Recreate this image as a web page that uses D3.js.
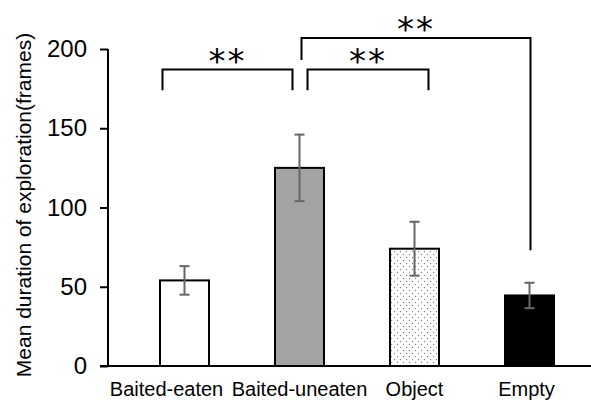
<!DOCTYPE html>
<html>
<head>
<meta charset="utf-8">
<script src="https://cdn.jsdelivr.net/npm/d3@7"></script>
<style>
  body { margin: 0; background: #fff; }
  svg { font-family: 'Liberation Sans', Arial, sans-serif; }
</style>
</head>
<body>
<div class="dataGraph"></div>
<script>
'use strict';

var categories = ['Baited-eaten', 'Baited-uneaten', 'Object', 'Empty'];
var means = [54, 125, 74, 44.5];
var errors = [9, 21, 17, 8];
var yTicks = [0, 50, 100, 150, 200];
var sigLabels = ['**', '**', '**'];

var fills = ['#ffffff', '#a3a3a3', 'url(#dots)', '#000000'];

var margin = {top: 49, right: 1, bottom: 37, left: 108},
  width = 591 - margin.left - margin.right,
  height = 403 - margin.top - margin.bottom;

var svg = d3.select('.dataGraph').append('svg')
  .attr('width', 591)
  .attr('height', 403);

var defs = svg.append('defs');
var pat = defs.append('pattern')
  .attr('id', 'dots')
  .attr('patternUnits', 'userSpaceOnUse')
  .attr('width', 6)
  .attr('height', 6);
pat.append('rect').attr('width', 6).attr('height', 6).attr('fill', '#fff');
pat.append('circle').attr('cx', 1.5).attr('cy', 1.5).attr('r', 0.7).attr('fill', '#888');
pat.append('circle').attr('cx', 4.5).attr('cy', 4.5).attr('r', 0.7).attr('fill', '#888');

var g = svg.append('g')
  .attr('transform', 'translate(' + margin.left + ',' + margin.top + ')');

var x = d3.scaleBand()
  .domain(categories)
  .range([52, 446])
  .paddingInner(0.574)
  .paddingOuter(0);

var y = d3.scaleLinear()
  .domain([0, 200])
  .range([height, 0]);

// y axis
var yAxis = g.append('g')
  .call(d3.axisLeft(y).tickValues(yTicks).tickSize(8).tickPadding(13));
yAxis.select('.domain').attr('stroke-width', 2).attr('d', 'M0,' + (height + 1) + 'V0');
yAxis.selectAll('.tick line').attr('stroke-width', 2);
yAxis.selectAll('.tick text')
  .attr('font-size', 24)
  .attr('font-family', "'Liberation Sans', Arial, sans-serif")
  .attr('fill', '#000');

// x axis
var xAxis = g.append('g')
  .attr('transform', 'translate(0,' + height + ')')
  .call(d3.axisBottom(x).tickSize(0).tickPadding(16));
xAxis.select('.domain').attr('stroke-width', 2).attr('d', 'M-8,0H' + (width + 2));
xAxis.selectAll('.tick text')
  .attr('font-size', 20)
  .attr('font-family', "'Liberation Sans', Arial, sans-serif")
  .attr('fill', '#000')
  .attr('dx', function(d, i) { return i === 0 ? -18 : (i === 3 ? -3 : 0); });

// y title
svg.append('text')
  .attr('transform', 'translate(31,' + 205 + ') rotate(-90)')
  .attr('text-anchor', 'middle')
  .attr('font-size', 21)
  .text('Mean duration of exploration(frames)');

// bars
g.selectAll('.bar')
  .data(categories)
  .enter().append('rect')
  .attr('class', 'bar')
  .attr('x', function(d) { return x(d); })
  .attr('width', x.bandwidth())
  .attr('y', function(d, i) { return y(means[i]); })
  .attr('height', function(d, i) { return height - y(means[i]); })
  .attr('fill', function(d, i) { return fills[i]; })
  .attr('stroke', '#000')
  .attr('stroke-width', 2);

// error bars
var eb = g.selectAll('.err')
  .data(categories)
  .enter().append('g')
  .attr('class', 'err')
  .attr('stroke', '#666')
  .attr('stroke-width', 2);
eb.append('line')
  .attr('x1', function(d) { return x(d) + x.bandwidth() / 2; })
  .attr('x2', function(d) { return x(d) + x.bandwidth() / 2; })
  .attr('y1', function(d, i) { return y(means[i] - errors[i]); })
  .attr('y2', function(d, i) { return y(means[i] + errors[i]); });
eb.selectAll('.cap')
  .data(function(d, i) { return [[d, means[i] - errors[i]], [d, means[i] + errors[i]]]; })
  .enter().append('line')
  .attr('x1', function(p) { return x(p[0]) + x.bandwidth() / 2 - 5; })
  .attr('x2', function(p) { return x(p[0]) + x.bandwidth() / 2 + 5; })
  .attr('y1', function(p) { return y(p[1]); })
  .attr('y2', function(p) { return y(p[1]); });

// significance brackets (levels in data units)
var c = function(i) { return x(categories[i]) + x.bandwidth() / 2; };
var br = [
  {x1: c(0) - 22, x2: c(1) - 7, top: y(187), l1: y(174), l2: y(174)},
  {x1: c(1) + 8, x2: c(2) + 14, top: y(187), l1: y(174), l2: y(174)},
  {x1: c(1) + 2, x2: c(3) + 1, top: y(207), l1: y(193), l2: y(73)}
];
g.selectAll('.bracket')
  .data(br)
  .enter().append('path')
  .attr('class', 'bracket')
  .attr('fill', 'none')
  .attr('stroke', '#000')
  .attr('stroke-width', 2)
  .attr('d', function(b) {
    return 'M' + b.x1 + ',' + b.l1 + 'V' + b.top + 'H' + b.x2 + 'V' + b.l2;
  });
g.selectAll('.sig')
  .data(br)
  .enter().append('text')
  .attr('class', 'sig')
  .attr('x', function(b) { return (b.x1 + b.x2) / 2; })
  .attr('y', function(b) { return b.top + 3; })
  .attr('text-anchor', 'middle')
  .attr('font-family', "'DejaVu Sans', sans-serif")
  .attr('font-size', 34)
  .attr('letter-spacing', 2)
  .text(function(b, i) { return sigLabels[i]; });
</script>
</body>
</html>
